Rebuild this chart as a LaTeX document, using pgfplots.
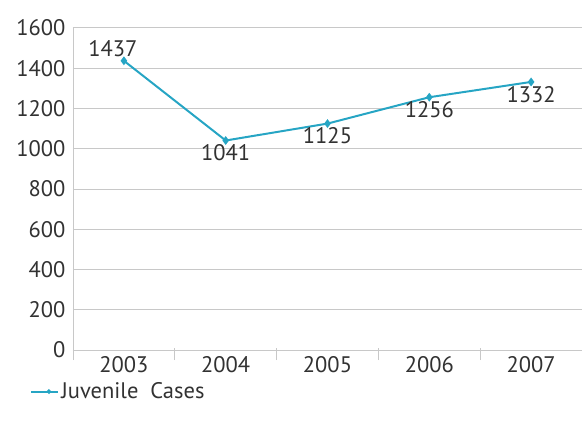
\documentclass[border=0pt]{standalone}
\usepackage{fontspec}
\setmainfont{PT Sans}
\usepackage{pgfplots}
\pgfplotsset{compat=1.18}
\usetikzlibrary{shapes.geometric}

\definecolor{lineteal}{RGB}{38,165,196}
\definecolor{gridgray}{RGB}{200,200,200}
\definecolor{textgray}{RGB}{50,50,50}

\newcommand{\chartfont}{\fontsize{22.5bp}{26bp}\selectfont}

\begin{document}
\begin{tikzpicture}
\begin{axis}[
  scale only axis,
  width=509bp, height=322bp,
  xmin=-0.5, xmax=4.5,
  ymin=0, ymax=1600,
  xtick={0,...,4},
  xticklabels={2003,2004,2005,2006,2007},
  minor xtick={-0.5,0.5,...,4.5},
  ytick={0,200,...,1600},
  ymajorgrids,
  grid style={gridgray, line width=1pt},
  axis x line*=bottom,
  axis y line*=left,
  axis line style={gridgray, line width=1pt, -},
  xtick pos=bottom,
  major x tick style={draw=none},
  % category separators hanging below the baseline
  minor x tick style={gridgray, line width=1pt, yshift=-10bp},
  minor tick length=12bp,
  ytick style={draw=none},
  tick label style={font=\chartfont, text=textgray},
  /pgf/number format/assume math mode=true,
  /pgf/number format/1000 sep={},
  yticklabel style={xshift=-4bp},
  xticklabel style={yshift=-5bp, inner ysep=1bp},
  legend style={draw=none, fill=none, at={(-0.084,-0.129)}, anchor=west,
    font=\chartfont, text=textgray, inner sep=0pt,
    cells={anchor=west, inner xsep=4bp, inner ysep=0pt},
    legend cell align=left},
  legend image code/.code={
    \draw[lineteal, line width=2pt] (0cm,0cm) -- (27bp,0cm);
    \node[diamond, fill=lineteal, inner sep=0pt, minimum size=6bp] at (13.5bp,0cm) {};
  },
  clip=false,
  every node near coord/.append style={font=\chartfont,
    text=textgray, inner sep=3bp},
]
% the series
\addplot[
  color=lineteal, line width=2pt,
  mark=diamond*, mark size=2.8bp, mark options={fill=lineteal},
] coordinates {(0,1437) (1,1041) (2,1125) (3,1256) (4,1332)};
\addlegendentry{Juvenile\ \ Cases}
% value label above the point
\addplot[forget plot, draw=none, mark=none, nodes near coords,
  nodes near coords align={above},
  every node near coord/.append style={xshift=-11bp, yshift=1bp}]
  coordinates {(0,1437)};
% value labels below the points
\addplot[forget plot, draw=none, mark=none, nodes near coords,
  nodes near coords align={below},
  every node near coord/.append style={yshift=-1bp}]
  coordinates {(1,1041) (2,1125) (3,1256) (4,1332)};
\end{axis}
\pgfresetboundingbox
\path[use as bounding box] (-73bp,-76bp) rectangle (509bp,350bp);
\end{tikzpicture}
\end{document}
